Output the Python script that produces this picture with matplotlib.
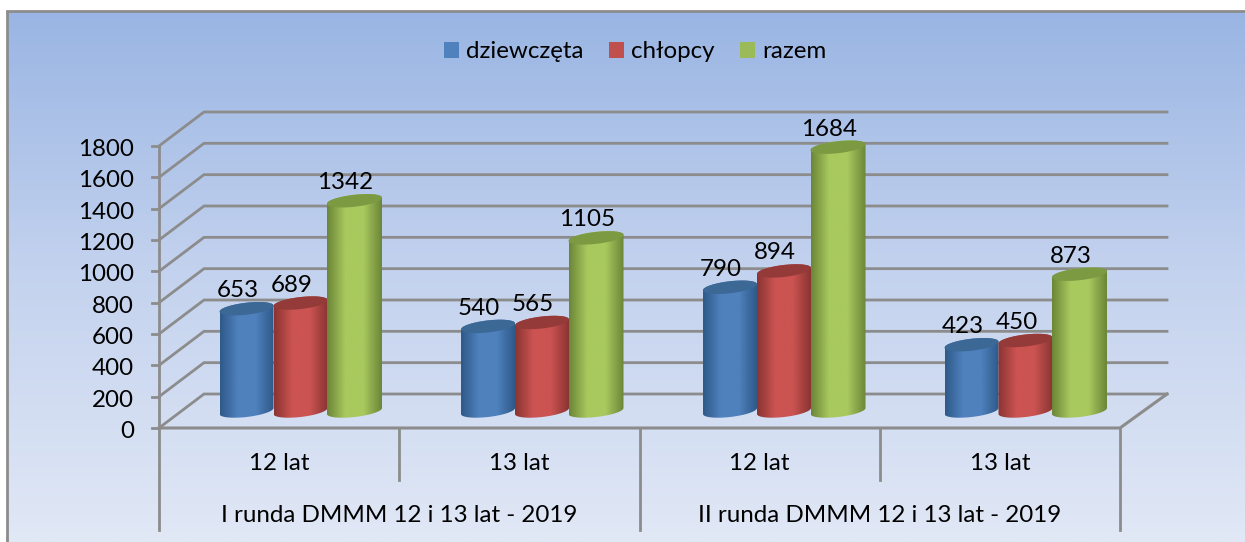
import numpy as np
import matplotlib
matplotlib.use('Agg')
import matplotlib.pyplot as plt
from matplotlib.path import Path
from matplotlib.patches import PathPatch, Patch, Rectangle
from matplotlib.colors import LinearSegmentedColormap

# data
groups = ['I runda DMMM 12 i 13 lat - 2019', 'II runda DMMM 12 i 13 lat - 2019']
ages = ['12 lat', '13 lat', '12 lat', '13 lat']
dziewczeta = [653, 540, 790, 423]
chlopcy = [689, 565, 894, 450]
razem = [1342, 1105, 1684, 873]
ticks = list(range(0, 2000, 200))
series_names = ['dziewczęta', 'chłopcy', 'razem']

W, H = 1245, 542
PX = 1800 / 282        # value per pixel
CAT = 240.25           # pixels per category
GREY = '#8c8c8c'
FS = 17.4

plt.rcParams['font.family'] = ['Lato', 'DejaVu Sans']

fig = plt.figure(figsize=(W / 100, H / 100), dpi=100)
ax = fig.add_axes([0, 0, 1, 1])
ax.set_xlim(-159 / CAT, (W - 159) / CAT)
ax.set_ylim(-(H - 428) * PX, 428 * PX)
ax.axis('off')
xlim, ylim = ax.get_xlim(), ax.get_ylim()


def dx(px):
    return px / CAT


def dy(px):
    return px * PX


# background gradient, clipped to the frame (only left and top edges are visible)
bg = LinearSegmentedColormap.from_list('bg', ['#98b4e3', '#c3d2ee', '#e1e8f6'])
im = ax.imshow(np.linspace(0, 1, 256).reshape(-1, 1), cmap=bg, aspect='auto',
               extent=[xlim[0], xlim[1], ylim[0], ylim[1]], origin='upper', zorder=0)
frame = Rectangle((dx(7 - 159), ylim[0] - dy(10)), dx(W - 7 + 10), dy(H - 11 + 10),
                  transform=ax.transData, facecolor='none', edgecolor=GREY, lw=2, zorder=1)
ax.add_patch(frame)
im.set_clip_path(frame)

# walls: grid lines go from the front axis back, then along the back wall
depth_x, depth_y = dx(45), dy(34)
right = dx(1167 - 159)
for v in ticks:
    ax.plot([0, depth_x, right], [v, v + depth_y, v + depth_y], color=GREY, lw=2, zorder=2,
            solid_joinstyle='miter')
    ax.plot([dx(-7), 0], [v, v], color=GREY, lw=2, zorder=2)
ax.plot([0, 4, right], [0, 0, depth_y], color=GREY, lw=2.2, zorder=2)

# axis and category separators
ax.plot([0, 0], [1800, dy(-102)], color=GREY, lw=2, zorder=2)
for i in [1, 3]:
    ax.plot([i, i], [0, dy(-52)], color=GREY, lw=2, zorder=2)
for i in [2, 4]:
    ax.plot([i, i], [0, dy(-102)], color=GREY, lw=2, zorder=2)

for v in ticks:
    ax.text(dx(-25), v - dy(3.5), str(v), ha='right', va='center', fontsize=FS, color='black')
for i, a in enumerate(ages):
    ax.text(i + 0.5, dy(-36), a, ha='center', va='center', fontsize=FS, color='black')
for i, g in enumerate(groups):
    ax.text(2 * i + 1, dy(-87), g, ha='center', va='center', fontsize=FS, color='black')

# cylinders
styles = [
    ('#2f5a8a', '#4f81bd', '#3c6896', 0),
    ('#8a3533', '#cb5351', '#943a38', 54),
    ('#6c8738', '#a8c95e', '#7c9a41', 108),
]
series = [dziewczeta, chlopcy, razem]
group_px = [0, 241.5, 483.5, 725]


def ellipse(cx, cy, a, t):
    # tilted ellipse, right side higher than left, values in pixels around the centre
    return cx + dx(a * np.cos(t)), cy + dy(3 * np.cos(t) + 6 * np.sin(t))


for s, (vals, st) in enumerate(zip(series, styles)):
    edge, mid, top, off = st
    cmap = LinearSegmentedColormap.from_list('c', [edge, mid, mid, edge])
    for g, v in enumerate(vals):
        a = 27 if s < 2 else 27.5
        cx = dx(87.5 + group_px[g] + off)
        cy0 = dy(17)
        cy1 = cy0 + v
        x1, y1 = ellipse(cx, cy0, a, np.linspace(np.pi, 2 * np.pi, 40))
        x2, y2 = ellipse(cx, cy1, a, np.linspace(0, np.pi, 40))
        pts = np.column_stack([np.r_[x1, x2], np.r_[y1, y2]])
        side = PathPatch(Path(pts, closed=False), transform=ax.transData, fc='none', ec='none')
        ax.add_patch(side)
        z = 3 + g * 0.1 + s * 0.01
        im2 = ax.imshow(np.linspace(0, 1, 64).reshape(1, -1), cmap=cmap, aspect='auto',
                        extent=[cx - dx(a), cx + dx(a), cy0 - dy(10), cy1 + dy(10)], zorder=z)
        im2.set_clip_path(side)
        xt, yt = ellipse(cx, cy1, a, np.linspace(0, 2 * np.pi, 80))
        ax.fill(xt, yt, color=top, lw=0, zorder=z + 0.001)
        ax.text(cx - dx(9), cy1 + dy(18), str(v), ha='center', va='center',
                fontsize=FS, color='black', zorder=6)

ax.set_xlim(xlim)
ax.set_ylim(ylim)

# legend
handles = [Patch(facecolor=c, edgecolor='none') for c in ['#4f81bd', '#c0504d', '#9bbb59']]
ax.legend(handles, series_names, ncol=3, frameon=False, loc='center',
          bbox_to_anchor=(635.5 / W, 1 - 52 / H), fontsize=FS, handlelength=0.62,
          handleheight=0.62, handletextpad=0.3, columnspacing=1.05)

fig.savefig('out.png', dpi=100)
